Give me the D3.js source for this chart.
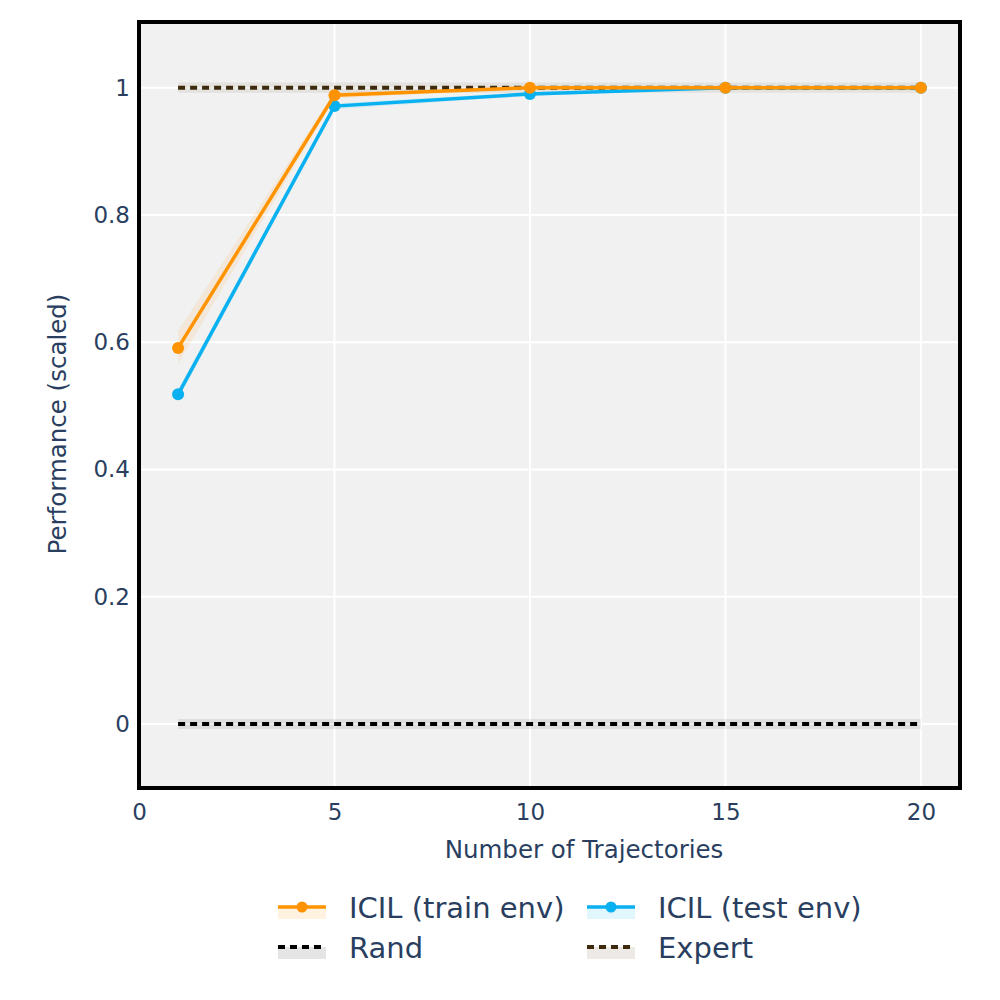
<!DOCTYPE html>
<html>
<head>
<meta charset="utf-8">
<script src="https://cdn.jsdelivr.net/npm/d3@7"></script>
<style>
  body { margin: 0; background: #fff; }
  text { font-family: "DejaVu Sans", Verdana, sans-serif; fill: #2a3f5f; }
</style>
</head>
<body>
<svg width="1000" height="1000"></svg>
<script>
// data
const trajectories = [1, 5, 10, 15, 20];
const trainMean  = [0.591, 0.988, 1.0, 1.0, 1.0];
const trainUpper = [0.618, 0.993, 1.0, 1.0, 1.0];
const trainLower = [0.566, 0.983, 1.0, 1.0, 1.0];
const testMean   = [0.518, 0.971, 0.990, 1.0, 1.0];
const testUpper  = [0.526, 0.975, 0.993, 1.0, 1.0];
const testLower  = [0.510, 0.966, 0.987, 1.0, 1.0];
const randMean   = [0, 0, 0, 0, 0];
const expertMean = [1, 1, 1, 1, 1];
const baselineSpread = 0.008;
const xTicks = [0, 5, 10, 15, 20];
const yTicks = [0, 0.2, 0.4, 0.6, 0.8, 1];

const svg = d3.select("svg");

const plot = { left: 139, right: 960, top: 22, bottom: 788 };

const x = d3.scaleLinear().domain([0, 21]).range([plot.left, plot.right]);
const y = d3.scaleLinear().domain([-0.1, 1.1]).range([787.6, 24]);

// background
svg.append("rect")
    .attr("x", plot.left).attr("y", plot.top)
    .attr("width", plot.right - plot.left)
    .attr("height", plot.bottom - plot.top)
    .attr("fill", "#f1f1f1");

// grid
svg.append("g")
    .selectAll("line.gx")
    .data(xTicks.filter(d => d > 0))
    .enter().append("line")
    .attr("x1", d => x(d)).attr("x2", d => x(d))
    .attr("y1", plot.top).attr("y2", plot.bottom)
    .attr("stroke", "#fff").attr("stroke-width", 2);

svg.append("g")
    .selectAll("line.gy")
    .data(yTicks)
    .enter().append("line")
    .attr("x1", plot.left).attr("x2", plot.right)
    .attr("y1", d => y(d)).attr("y2", d => y(d))
    .attr("stroke", "#fff").attr("stroke-width", 2);

const series = [
    { name: "Rand", mean: randMean, upper: randMean.map(v => v + baselineSpread), lower: randMean.map(v => v - baselineSpread),
      color: "#000", band: "rgba(0,0,0,0.08)", dash: "7,5", markers: false },
    { name: "Expert", mean: expertMean, upper: expertMean.map(v => v + baselineSpread), lower: expertMean.map(v => v - baselineSpread),
      color: "#3d2a0c", band: "rgba(80,50,10,0.08)", dash: "7,5", markers: false },
    { name: "ICIL (test env)", mean: testMean, upper: testUpper, lower: testLower,
      color: "#0ab1f0", band: "rgba(10,177,240,0.12)", dash: null, markers: true },
    { name: "ICIL (train env)", mean: trainMean, upper: trainUpper, lower: trainLower,
      color: "#ff9400", band: "rgba(255,148,0,0.1)", dash: null, markers: true }
];

const area = d3.area()
    .x((d, i) => x(trajectories[i]))
    .y0(d => y(d[0]))
    .y1(d => y(d[1]));

const line = d3.line()
    .x((d, i) => x(trajectories[i]))
    .y(d => y(d));

series.forEach(s => {
    svg.append("path")
        .datum(s.lower.map((v, i) => [v, s.upper[i]]))
        .attr("d", area)
        .attr("fill", s.band);
});

series.forEach(s => {
    svg.append("path")
        .datum(s.mean)
        .attr("d", line)
        .attr("fill", "none")
        .attr("stroke", s.color)
        .attr("stroke-width", s.dash ? 4 : 3.5)
        .attr("stroke-dasharray", s.dash);
    if (s.markers) {
        svg.selectAll(null)
            .data(s.mean)
            .enter().append("circle")
            .attr("cx", (d, i) => x(trajectories[i]))
            .attr("cy", d => y(d))
            .attr("r", 6)
            .attr("fill", s.color);
    }
});

// frame
svg.append("rect")
    .attr("x", plot.left).attr("y", plot.top)
    .attr("width", plot.right - plot.left)
    .attr("height", plot.bottom - plot.top)
    .attr("fill", "none")
    .attr("stroke", "#000").attr("stroke-width", 4);

// axes
const xAxis = svg.append("g")
    .attr("transform", `translate(0,${plot.bottom})`)
    .call(d3.axisBottom(x).tickValues(xTicks).tickSize(0).tickPadding(16));
const yAxis = svg.append("g")
    .attr("transform", `translate(${plot.left},0)`)
    .call(d3.axisLeft(y).tickValues(yTicks).tickFormat(d3.format("~g")).tickSize(0).tickPadding(9));
[xAxis, yAxis].forEach(a => {
    a.select(".domain").remove();
    a.selectAll("text").attr("font-size", 23).attr("fill", "#2a3f5f")
        .attr("font-family", "DejaVu Sans, Verdana, sans-serif");
});

svg.append("text")
    .attr("x", 584).attr("y", 858)
    .attr("text-anchor", "middle").attr("font-size", 24.5)
    .text("Number of Trajectories");

svg.append("text")
    .attr("transform", `translate(66,424) rotate(-90)`)
    .attr("text-anchor", "middle").attr("font-size", 24.5)
    .text("Performance (scaled)");

// legend
const legendItems = [series[3], series[2], series[0], series[1]];
const legendPos = [[278, 907], [587, 907], [278, 947], [587, 947]];
const legend = svg.append("g");
legendItems.forEach((s, i) => {
    const [lx, ly] = legendPos[i];
    const g = legend.append("g").attr("transform", `translate(${lx},${ly})`);
    g.append("rect").attr("x", 0).attr("y", 0).attr("width", 48).attr("height", 12)
        .attr("fill", s.band.replace(/[\d.]+\)$/, s.dash ? "0.1)" : "0.12)"));
    g.append("line").attr("x1", 0).attr("x2", 48).attr("y1", 0).attr("y2", 0)
        .attr("stroke", s.color).attr("stroke-width", s.dash ? 4 : 3.5)
        .attr("stroke-dasharray", s.dash);
    if (s.markers) {
        g.append("circle").attr("cx", 24).attr("cy", 0).attr("r", 5.5).attr("fill", s.color);
    }
    g.append("text").attr("x", 71).attr("y", 10.5).attr("font-size", 29).text(s.name);
});
</script>
</body>
</html>
